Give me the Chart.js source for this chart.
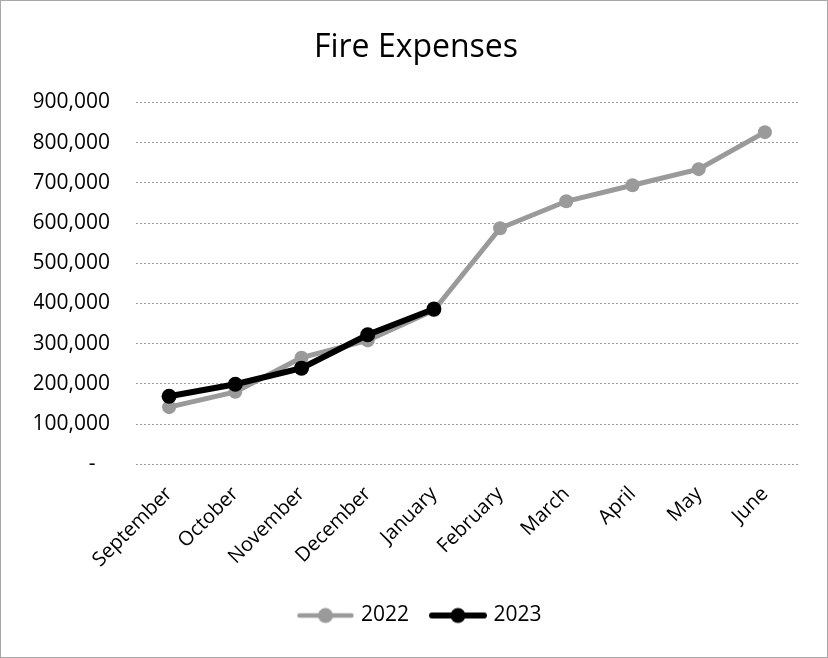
<!DOCTYPE html>
<html>
<head>
<meta charset="utf-8">
<script src="https://cdn.jsdelivr.net/npm/chart.js@4/dist/chart.umd.min.js"></script>
<style>
  html, body { margin: 0; padding: 0; background: #fff; }
  #wrap { position: absolute; left: 0; top: 0; width: 826px; height: 656px; border: 1px solid #a8a8a8; }
  canvas { display: block; }
</style>
</head>
<body>
<div id="wrap"><canvas id="c" width="826" height="656"></canvas></div>
<script>
const categories = ["September", "October", "November", "December", "January", "February", "March", "April", "May", "June"];
const values2022 = [142000, 180000, 265000, 308000, 383000, 587000, 654000, 694000, 734000, 826000];
const values2023 = [169000, 199000, 239000, 322000, 386000];
const seriesNames = ["2022", "2023"];
const yTicks = [0, 100000, 200000, 300000, 400000, 500000, 600000, 700000, 800000, 900000];

const GRAY = "#9a9a9a";
const BLACK = "#000000";
const FONT = "'Open Sans', 'Noto Sans', sans-serif";

function legendIcon(color, lw, r) {
  const cv = document.createElement("canvas");
  cv.width = 58; cv.height = 18;
  const g = cv.getContext("2d");
  g.strokeStyle = color; g.lineWidth = lw; g.lineCap = "round";
  g.beginPath(); g.moveTo(3, 9); g.lineTo(55, 9); g.stroke();
  g.fillStyle = color;
  g.beginPath(); g.arc(29, 9, r, 0, Math.PI * 2); g.fill();
  return cv;
}
const icons = [legendIcon(GRAY, 4.5, 7.5), legendIcon(BLACK, 6, 7.5)];

const legendShift = {
  id: "legendShift",
  afterLayout(chart) {
    if (chart.legend) { chart.legend.left += 5; chart.legend.right += 5; }
  }
};

new Chart(document.getElementById("c"), {
  type: "line",
  data: {
    labels: categories,
    datasets: [
      { label: seriesNames[0], data: values2022, borderColor: GRAY, backgroundColor: GRAY,
        borderWidth: 5, pointRadius: 7, pointHoverRadius: 7, pointBackgroundColor: GRAY,
        pointBorderWidth: 0, tension: 0, order: 2, pointStyle: "circle" },
      { label: seriesNames[1], data: values2023, borderColor: BLACK, backgroundColor: BLACK,
        borderWidth: 6, pointRadius: 7.5, pointHoverRadius: 7.5, pointBackgroundColor: BLACK,
        pointBorderWidth: 0, tension: 0, order: 1, pointStyle: "circle" }
    ]
  },
  plugins: [legendShift],
  options: {
    responsive: false,
    animation: false,
    layout: { padding: { left: 33, right: 29, top: 0, bottom: 21 } },
    plugins: {
      title: { display: true, text: "Fire Expenses", color: "#000",
        font: { family: FONT, size: 32, weight: "normal" }, padding: { top: 28, bottom: 35 } },
      legend: {
        position: "bottom",
        labels: {
          color: "#000",
          font: { family: FONT, size: 21 },
          usePointStyle: true,
          pointStyleWidth: 50,
          padding: 24,
          generateLabels: (chart) => chart.data.datasets.map((ds, i) => ({
            text: ds.label, pointStyle: icons[i], fillStyle: ds.borderColor,
            strokeStyle: ds.borderColor, lineWidth: 0, hidden: false, datasetIndex: i, fontColor: "#000"
          }))
        }
      },
      tooltip: { enabled: false }
    },
    scales: {
      x: {
        offset: true,
        grid: { display: false },
        border: { display: false },
        afterFit: (s) => { s.height -= 1; },
        ticks: { color: "#000", font: { family: FONT, size: 20 }, maxRotation: 45, minRotation: 45, padding: 10 }
      },
      y: {
        min: 0, max: 900000,
        afterBuildTicks: (s) => { s.ticks = yTicks.map(v => ({ value: v })); },
        afterFit: (s) => { s.width = 102; },
        grid: { color: "#9c9c9c", lineWidth: 1, drawTicks: false },
        border: { display: false, dash: [2, 2] },
        ticks: {
          color: "#000", font: { family: FONT, size: 21 }, padding: 26,
          callback: (v) => v === 0 ? "-\u00a0\u00a0\u2009" : v.toLocaleString("en-US")
        }
      }
    }
  }
});
</script>
</body>
</html>
